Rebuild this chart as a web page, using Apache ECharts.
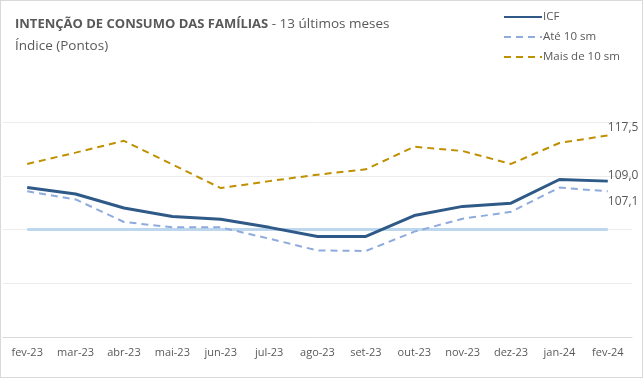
<!DOCTYPE html>
<html><head><meta charset="utf-8">
<script src="https://cdn.jsdelivr.net/npm/echarts@6/dist/echarts.min.js"></script>
<style>html,body{margin:0;padding:0;background:#fff;}#c{width:641px;height:376px;border:1px solid #d9d9d9;}</style>
</head><body><div id="c"></div>
<script>
const categories = ['fev-23','mar-23','abr-23','mai-23','jun-23','jul-23','ago-23','set-23','out-23','nov-23','dez-23','jan-24','fev-24'];
const icf = [107.8,106.6,104.0,102.4,101.9,100.4,98.7,98.7,102.6,104.3,104.9,109.3,109.0];
const ate10 = [107.1,105.6,101.4,100.4,100.4,98.3,96.1,96.0,99.6,102.0,103.3,107.8,107.1];
const mais10 = [112.2,114.3,116.5,112.1,107.7,109.0,110.2,111.2,115.4,114.6,112.2,116.1,117.5];
const reference = [100,100,100,100,100,100,100,100,100,100,100,100,100];
const yTicks = [80,90,100,110,120];

const fmt = v => v.toFixed(1).replace('.', ',');
const FONT = 'Open Sans';
const chart = echarts.init(document.getElementById('c'));
chart.setOption({
  animation:false,
  textStyle:{fontFamily:FONT},
  title:{
    left:9, top:7,
    text:'{b|INTENÇÃO DE CONSUMO DAS FAMÍLIAS}{n| - 13 últimos meses}\n{n|Índice (Pontos)}',
    textStyle:{fontWeight:'normal',rich:{
      b:{fontFamily:FONT,fontWeight:'bold',fontSize:13,color:'#595959',lineHeight:22},
      n:{fontFamily:FONT,fontWeight:'normal',fontSize:13.5,color:'#595959',lineHeight:22}
    }}
  },
  legend:{
    orient:'vertical', left:497, top:5, itemGap:8, itemWidth:38, itemHeight:14,
    data:['ICF','Até 10 sm','Mais de 10 sm'],
    itemStyle:{opacity:0},
    textStyle:{fontSize:11.5,color:'#595959',fontFamily:FONT,padding:[0,0,0,-4]}
  },
  grid:{left:2,right:10,top:121,bottom:40},
  xAxis:{
    type:'category', data:categories, boundaryGap:true,
    axisLine:{lineStyle:{color:'#d9d9d9'}}, axisTick:{show:false},
    axisLabel:{color:'#595959',fontSize:11,margin:10,interval:0}
  },
  yAxis:{
    type:'value', min:yTicks[0], max:yTicks[yTicks.length-1], interval:10,
    axisLabel:{show:false}, axisLine:{show:false}, axisTick:{show:false},
    splitLine:{lineStyle:{color:'#ececec'}}
  },
  series:[
    {name:'Referência', type:'line', data:reference, symbol:'none', z:1,
      lineStyle:{color:'#BDD7EE',width:3}},
    {name:'Mais de 10 sm', type:'line', data:mais10, symbol:'none', color:'#BF9000',
      lineStyle:{color:'#BF9000',width:2,type:[7,5]},
      endLabel:{show:true,formatter:p=>fmt(p.value),color:'#595959',fontSize:12,distance:0,offset:[0,-8]}},
    {name:'Até 10 sm', type:'line', data:ate10, symbol:'none', color:'#8FAADC',
      lineStyle:{color:'#8FAADC',width:2,type:[7,5]},
      endLabel:{show:true,formatter:p=>fmt(p.value),color:'#595959',fontSize:12,distance:0,offset:[0,10]}},
    {name:'ICF', type:'line', data:icf, symbol:'none', color:'#2F5A88', z:5,
      lineStyle:{color:'#2F5A88',width:3},
      endLabel:{show:true,formatter:p=>fmt(p.value),color:'#595959',fontSize:12,distance:0,offset:[0,-6]}}
  ]
});
</script></body></html>
